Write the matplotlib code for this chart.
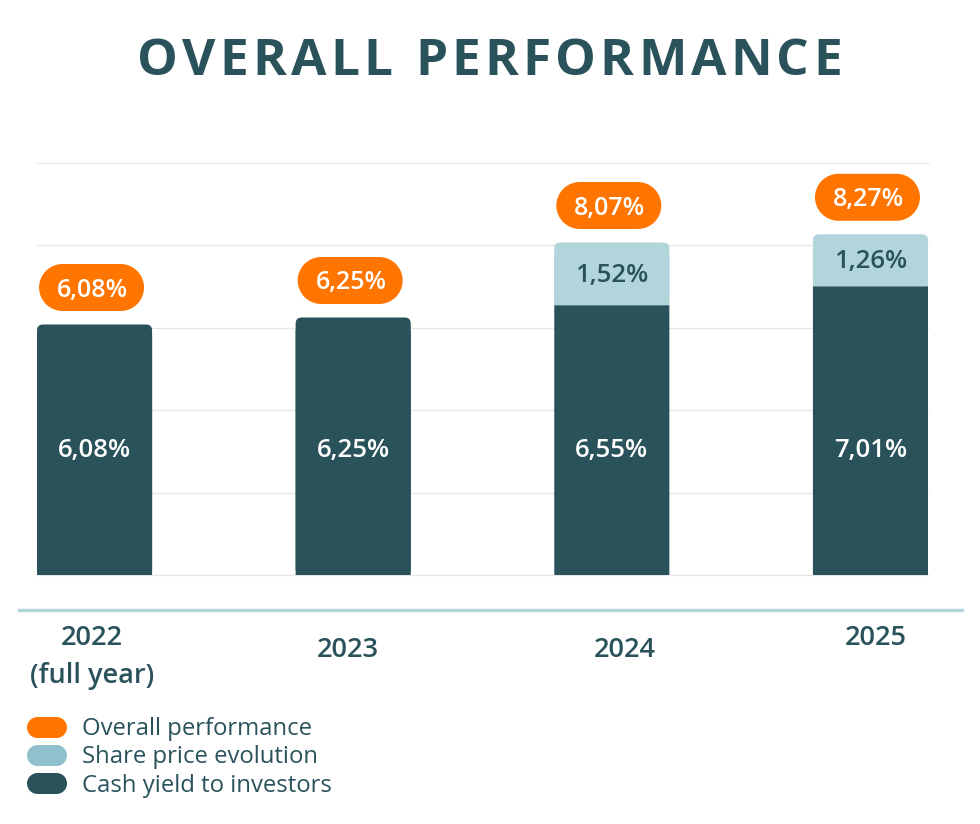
import matplotlib
matplotlib.use("Agg")
import matplotlib.pyplot as plt
from matplotlib.patches import FancyBboxPatch, PathPatch
from matplotlib.lines import Line2D
from matplotlib.path import Path
from matplotlib.transforms import ScaledTranslation
import numpy as np

# chart data
years = ["2022", "2023", "2024", "2025"]
year_notes = ["(full year)", "", "", ""]
cash_yield = [6.08, 6.25, 6.55, 7.01]
share_price = [0.0, 0.0, 1.52, 1.26]
overall = [6.08, 6.25, 8.07, 8.27]
legend_labels = ["Overall performance", "Share price evolution", "Cash yield to investors"]

DARK = "#2A525B"
LIGHT = "#B2D5DB"
LEGEND_LIGHT = "#8FC0CC"
ORANGE = "#FF7500"
GRID = "#E6E6E6"

plt.rcParams["font.family"] = ["Open Sans", "DejaVu Sans"]


def pct(v):
    return f"{v:.2f}%".replace(".", ",")


def pill(cx, cy, w, h):
    # stadium shape: two half circles joined by straight edges
    r = h / 2
    left = Path.arc(90, 270)
    right = Path.arc(-90, 90)
    verts = np.vstack([left.vertices * r + [cx - w / 2 + r, cy],
                       right.vertices * r + [cx + w / 2 - r, cy],
                       [[cx - w / 2 + r, cy + r]]])
    codes = np.concatenate([left.codes, right.codes, [Path.CLOSEPOLY]])
    codes[len(left.codes)] = Path.LINETO
    return Path(verts, codes)


fig = plt.figure(figsize=(9.8, 8.24), dpi=100)
ax = fig.add_axes([37 / 980, 249 / 824, 891 / 980, 412 / 824])

bar_w = 0.445
x = np.arange(len(years))
ax.set_xlim(-bar_w / 2, len(years) - 1 + bar_w / 2)
ax.set_ylim(0, 10)
ax.set_yticks(np.arange(0, 11, 2))
ax.grid(axis="y", color=GRID, linewidth=0.9)
for gl in ax.get_ygridlines():
    gl.set_clip_on(False)
ax.set_axisbelow(True)
for s in ax.spines.values():
    s.set_visible(False)
ax.tick_params(left=False, bottom=False, labelleft=False, labelbottom=False)

# pixel scales for rounded tops
ux = 891 / (len(years) - 1 + bar_w)
uy = 412 / 10
r_x = 6 / ux
r_y = 6 / uy


def draw_segment(xc, bottom, height, color, rounded):
    if not rounded:
        ax.bar(xc, height, bar_w, bottom=bottom, color=color, zorder=2,
               linewidth=0, snap=False)
        return
    ax.bar(xc, height - 2 * r_y, bar_w, bottom=bottom, color=color, zorder=2,
           linewidth=0, snap=False)
    ax.add_patch(FancyBboxPatch((xc - bar_w / 2, bottom), bar_w, height,
                                boxstyle=f"round,pad=0,rounding_size={r_x}",
                                mutation_aspect=ux / uy, facecolor=color,
                                edgecolor="none", zorder=2))


for i in range(len(years)):
    top_is_light = share_price[i] > 0
    draw_segment(x[i], 0, cash_yield[i], DARK, not top_is_light)
    ax.text(x[i], 2.86, pct(cash_yield[i]), ha="center", va="baseline",
            color="white", fontsize=18.5, fontweight="semibold", zorder=3)
    if top_is_light:
        draw_segment(x[i], cash_yield[i], share_price[i], LIGHT, True)
        ax.text(x[i], cash_yield[i] + share_price[i] / 2 - 0.19, pct(share_price[i]),
                ha="center", va="baseline", color=DARK, fontsize=18.5,
                fontweight="semibold", zorder=3)

    # orange pill with the overall figure
    trans = fig.dpi_scale_trans + ScaledTranslation(x[i], overall[i], ax.transData)
    cy = 0.37
    ax.add_patch(PathPatch(pill(-0.03, cy, 1.05, 0.47), facecolor=ORANGE,
                           edgecolor="none", transform=trans, clip_on=False, zorder=4))
    ax.text(-0.02, cy - 0.09, pct(overall[i]), transform=trans, ha="center",
            va="baseline", color="white", fontsize=18, fontweight="semibold",
            zorder=5, clip_on=False)

# x labels below the light axis line
xt = ax.get_xaxis_transform()
label_dx = [-0.01, -0.02, 0.05, 0.02]
label_y = [-0.170, -0.199, -0.199, -0.170]
for i in range(len(years)):
    ax.text(x[i] + label_dx[i], label_y[i], years[i], transform=xt, ha="center",
            va="baseline", color=DARK, fontsize=19.5, fontweight="semibold")
    if year_notes[i]:
        ax.text(x[i] + label_dx[i], label_y[i] - 0.092, year_notes[i], transform=xt,
                ha="center", va="baseline", color=DARK, fontsize=19.5,
                fontweight="semibold")

fig.add_artist(Line2D([19 / 980, 962 / 980], [1 - 610 / 824, 1 - 610 / 824],
                      transform=fig.transFigure, color=LIGHT, linewidth=2.4))

# legend
legend_colors = [ORANGE, LEGEND_LIGHT, DARK]
legend_pill_y = [0.965, 0.685, 0.405]
legend_text_y = [1 - 735 / 824, 1 - 763 / 824, 1 - 792 / 824]
for lab, col, py, ty in zip(legend_labels, legend_colors, legend_pill_y, legend_text_y):
    fig.add_artist(PathPatch(pill(0.47, py, 0.40, 0.21), facecolor=col,
                             edgecolor="none", transform=fig.dpi_scale_trans))
    fig.text(82 / 980, ty, lab, ha="left", va="baseline", color=DARK, fontsize=17.2)

# tracked title
title = "OVERALL PERFORMANCE"
title_kw = dict(fontsize=37, fontweight="bold", color=DARK, va="baseline")
renderer = fig.canvas.get_renderer()
widths = []
for ch in title:
    if ch == " ":
        widths.append(14.0)
        continue
    t = fig.text(0, 0, ch, **title_kw)
    widths.append(t.get_window_extent(renderer).width)
    t.remove()
target = 705.0
track = (target - sum(widths)) / (len(title) - 1)
xpos = 137.0
for ch, w in zip(title, widths):
    if ch != " ":
        fig.text(xpos / 980, 1 - 75 / 824, ch, ha="left", **title_kw)
    xpos += w + track

fig.savefig("out.png", dpi=100, facecolor="white")
